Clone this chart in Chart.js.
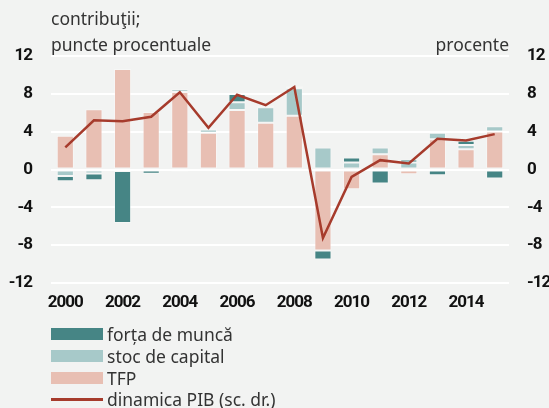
<!DOCTYPE html>
<html>
<head>
<meta charset="utf-8">
<script src="https://cdn.jsdelivr.net/npm/chart.js@4"></script>
<style>
  html, body { margin: 0; padding: 0; background: #f2f3f2; }
  #wrap { position: relative; width: 549px; height: 408px; }
  .txt { position: absolute; font-family: 'Noto Sans', sans-serif; font-size: 17.5px; color: #333; white-space: nowrap; line-height: 20px; }
  .box { position: absolute; left: 51px; width: 52px; height: 12px; }
  .lgline { position: absolute; left: 51px; width: 52px; height: 3px; background: #a63b2c; }
</style>
</head>
<body>
<div id="wrap">
  <canvas id="chart" width="549" height="408"></canvas>
  <div class="txt" style="left:51px; top:8px;">contribuţii;</div>
  <div class="txt" style="left:51px; top:34px;">puncte procentuale</div>
  <div class="txt" style="right:40px; top:34px;">procente</div>

  <div class="box" style="top:328px; background:#468585;"></div>
  <div class="txt" style="left:107px; top:324px;">forța de muncă</div>
  <div class="box" style="top:350px; background:#a7c9c9;"></div>
  <div class="txt" style="left:107px; top:346px;">stoc de capital</div>
  <div class="box" style="top:372px; background:#e8bfb3;"></div>
  <div class="txt" style="left:107px; top:368px;">TFP</div>
  <div class="lgline" style="top:398px;"></div>
  <div class="txt" style="left:107px; top:389px;">dinamica PIB (sc. dr.)</div>
</div>

<script>
// ---- data ----
const years   = ['2000','2001','2002','2003','2004','2005','2006','2007',
                 '2008','2009','2010','2011','2012','2013','2014','2015'];
const labour  = [-0.56, -0.71, -5.5, -0.45, -0.25, 0.1, 0.88, 0.2,
                 0.2, -0.95, 0.53, -1.48, 0.32, -0.6, 0.43, -0.95];
const capital = [-0.68, -0.42, -0.15, 0, 0.28, 0.35, 0.81, 1.63,
                 2.9, 2.33, 0.74, 0.71, 0.74, 0.68, 0.45, 0.53];
const tfp     = [3.56, 6.36, 10.63, 6.07, 8.2, 3.88, 6.29, 4.94,
                 5.69, -8.56, -2.08, 1.62, -0.5, 3.2, 2.15, 4.03];
const gdp     = [2.33, 5.2, 5.09, 5.58, 8.16, 4.41, 7.9, 6.8,
                 8.73, -7.25, -0.78, 0.99, 0.63, 3.25, 3.07, 3.74];
const yTicks  = [-12, -8, -4, 0, 4, 8, 12];

const tickFont = { family: "Roboto, sans-serif", size: 17, weight: 'bold' };

// tighter letter spacing so the tick numbers look condensed like the original
const narrowTicks = {
  id: 'narrowTicks',
  beforeDraw: chart => { chart.ctx.save(); chart.ctx.letterSpacing = '-1px'; },
  afterDraw:  chart => { chart.ctx.restore(); }
};

const barStyle = {
  type: 'bar',
  yAxisID: 'y',
  stack: 'contrib',
  barPercentage: 0.6,
  categoryPercentage: 1,
  borderWidth: 1,
  borderColor: 'rgba(255,255,255,0.35)',
  borderSkipped: false,
  order: 2
};

new Chart(document.getElementById('chart'), {
  data: {
    labels: years,
    datasets: [
      { ...barStyle, label: 'TFP', data: tfp, backgroundColor: '#e8bfb3' },
      { ...barStyle, label: 'stoc de capital', data: capital, backgroundColor: '#a7c9c9' },
      { ...barStyle, label: 'forța de muncă', data: labour, backgroundColor: '#468585' },
      {
        type: 'line',
        label: 'dinamica PIB (sc. dr.)',
        data: gdp,
        yAxisID: 'y1',
        borderColor: '#a63b2c',
        borderWidth: 2.5,
        pointRadius: 0,
        tension: 0,
        order: 1
      }
    ]
  },
  plugins: [narrowTicks],
  options: {
    responsive: false,
    animation: false,
    layout: { padding: { top: 56, left: 0, right: 0, bottom: 0 } },
    plugins: { legend: { display: false }, tooltip: { enabled: false } },
    scales: {
      x: {
        stacked: true,
        grid: { display: false, drawTicks: false },
        border: { display: false },
        afterFit: s => { s.height = 125; },
        ticks: {
          color: '#111',
          font: tickFont,
          padding: 10,
          maxRotation: 0,
          autoSkip: false,
          callback: (v, i) => (i % 2 === 0 ? years[i] : '')
        }
      },
      y: {
        position: 'left',
        stacked: true,
        min: -12, max: 12,
        afterBuildTicks: s => { s.ticks = yTicks.map(v => ({ value: v })); },
        afterFit: s => { s.width = 51; },
        grid: { color: '#ffffff', lineWidth: 2, drawTicks: false },
        border: { display: false },
        ticks: { color: '#111', font: tickFont, padding: 19 }
      },
      y1: {
        position: 'right',
        min: -12, max: 12,
        afterBuildTicks: s => { s.ticks = yTicks.map(v => ({ value: v })); },
        afterFit: s => { s.width = 40; },
        grid: { display: false, drawTicks: false },
        border: { display: false },
        ticks: { color: '#111', font: tickFont, padding: 18 }
      }
    }
  }
});
</script>
</body>
</html>
